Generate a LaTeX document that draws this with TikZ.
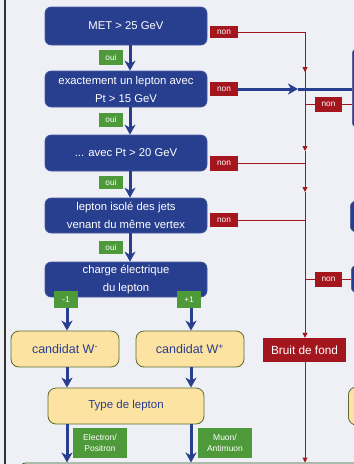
\documentclass[tikz,border=0pt]{standalone}
\usepackage{fontspec}
\setmainfont{Liberation Sans}
\usetikzlibrary{arrows.meta}
\definecolor{bg}{HTML}{EEF0F6}
\definecolor{bblue}{HTML}{283E8E}
\definecolor{rred}{HTML}{A4161E}
\definecolor{ggreen}{HTML}{4E9A3B}
\definecolor{yfill}{HTML}{FDE3A2}
\definecolor{yborder}{HTML}{5B6B30}
\begin{document}
\begin{tikzpicture}[x=1pt,y=-1pt,
  bluebox/.style={draw=bblue!85!white, line width=0.6pt, fill=bblue, rounded corners=6pt, text=white,
    font=\fontsize{11.3}{18}\selectfont, align=center, minimum width=162pt, inner sep=0pt},
  ybox/.style={draw=yborder, line width=0.8pt, fill=yfill, rounded corners=8pt, text=bblue,
    font=\fontsize{12.5}{14}\selectfont, align=center, inner sep=0pt},
  nonlab/.style={fill=rred, text=white, font=\fontsize{8.3}{9}\selectfont, minimum width=28pt, minimum height=14pt, inner sep=0pt},
  ouilab/.style={fill=ggreen, text=white, font=\fontsize{8.3}{9}\selectfont, minimum width=24pt, minimum height=14pt, inner sep=0pt},
  glab/.style={fill=ggreen, text=white, font=\fontsize{8.5}{10.5}\selectfont, align=center, minimum width=54pt, minimum height=30pt, inner sep=0pt},
  barrow/.style={draw=bblue, line width=3pt, -{Stealth[length=10pt,width=11pt,inset=3pt]}},
  bline/.style={draw=bblue, line width=3pt},
  rline/.style={draw=rred, line width=1pt},
  rarrow/.style={draw=rred, line width=1pt, -{Triangle[length=5pt,width=5pt]}}
]
\useasboundingbox (0,0) rectangle (354,464);
\clip (0,0) rectangle (354,464);
\fill[bg] (0,0) rectangle (354,464);
\draw[line width=1.2pt, black!80] (5,0) -- (5,464);

% main blue boxes
\node[bluebox, minimum height=38pt] (b1) at (126,26) {MET > 25 GeV};
\node[bluebox, minimum height=36pt] (b2) at (126,89) {exactement un lepton avec\\Pt > 15 GeV};
\node[bluebox, minimum height=36pt] (b3) at (126,153) {... avec Pt > 20 GeV};
\node[bluebox, minimum height=35pt] (b4) at (126,215.5) {lepton isolé des jets\\venant du même vertex};
\node[bluebox, minimum height=35pt] (b5) at (126,279.5) {charge électrique\\du lepton};

% partial right boxes
\node[bluebox, minimum width=60pt, minimum height=80pt, anchor=west] (rb1) at (352,88) {};
\node[bluebox, minimum width=60pt, minimum height=31pt, anchor=west] (rb2) at (350,216.5) {};
\node[bluebox, minimum width=60pt, minimum height=28pt, anchor=west] (rb3) at (351,279) {};
\node[ybox, minimum width=60pt, minimum height=38pt, anchor=west] (rb4) at (348,406) {};

% yellow boxes
\node[ybox, minimum width=108pt, minimum height=36pt] (wm) at (65,349) {candidat W\textsuperscript{-}};
\node[ybox, minimum width=108pt, minimum height=36pt] (wp) at (190,349) {candidat W\textsuperscript{+}};
\node[ybox, minimum width=156pt, minimum height=36pt, font=\fontsize{11.5}{14}\selectfont] (type) at (126,406) {Type de lepton};
\node[draw=ggreen!60!black, line width=0.8pt, fill=bg, rounded corners=8pt, minimum width=420pt, minimum height=60pt, anchor=north west, inner sep=0pt] (bot) at (18,462.5) {};

% bruit de fond
\node[fill=rred, text=white, font=\fontsize{11.8}{14}\selectfont, minimum width=83pt, minimum height=24pt, inner sep=0pt] (bruit) at (304.5,350) {Bruit de fond};

% labels
\node[nonlab, minimum height=12pt] (n1) at (224,32) {non};
\node[nonlab] (n2) at (224,89) {non};
\node[nonlab, minimum height=15pt] (n3) at (224,163) {non};
\node[nonlab] (n4) at (224,220) {non};
\node[nonlab, minimum width=27pt, minimum height=15pt] (rn1) at (328.5,104.5) {non};
\node[nonlab, minimum width=27pt, minimum height=15pt] (rn2) at (328.5,279.5) {non};

\node[ouilab, minimum height=15pt] (o1) at (111,57.5) {oui};
\node[ouilab] (o2) at (111,119.5) {oui};
\node[ouilab, minimum height=13pt] (o3) at (111,182.5) {oui};
\node[ouilab, minimum height=13pt] (o4) at (111,247.5) {oui};
\node[ouilab, minimum height=17pt] (m1) at (66,299.5) {-1};
\node[ouilab, minimum height=17pt] (p1) at (189,299.5) {+1};
\node[glab] (el) at (100,443) {Electron/\\Positron};
\node[glab] (mu) at (225,443) {Muon/\\Antimuon};

% blue vertical arrows
\draw[barrow] ([xshift=4pt]b1.south) -- ([xshift=4pt]b2.north);
\draw[barrow] ([xshift=4pt]b2.south) -- ([xshift=4pt]b3.north);
\draw[barrow] ([xshift=4pt]b3.south) -- ([xshift=4pt]b4.north);
\draw[barrow] ([xshift=4pt]b4.south) -- ([xshift=4pt]b5.north);
\draw[barrow] ([xshift=1pt]m1.south) -- ([xshift=1pt]m1.south |- wm.north);
\draw[barrow] ([xshift=2pt]p1.south) -- ([xshift=2pt]p1.south |- wp.north);
\draw[barrow] (wm.south -| 67,0) -- (type.north -| 67,0);
\draw[barrow] (wp.south -| 191,0) -- (type.north -| 191,0);
\draw[barrow] (type.south -| 67,0) -- (bot.north -| 67,0);
\draw[barrow] (type.south -| 191,0) -- (bot.north -| 191,0);

% red trunk
\coordinate (c1) at (305,32);
\coordinate (r1) at (305,72);
\coordinate (r2) at (305,151);
\coordinate (r3) at (305,192);
\draw[rline] (n1.east) -- (c1) -- (r1);
\draw[rarrow] (c1) -- (r1);
\draw[rarrow] (r1) -- (r2);
\draw[rarrow] (r2) -- (r3);
\draw[rarrow] (r3) -- (bruit.north -| c1);
\draw[rarrow] (bruit.south -| c1) -- (bot.north -| c1);
\draw[rline] (n3.east) -- (n3.east -| c1);
\draw[rline] (n4.east) -- (n4.east -| c1);
\draw[rline] (rn1.west) -- (rn1.west -| c1);
\draw[rline] (rn1.east) -- (rn1.east -| rb1.west);
\draw[rline] (rn2.west) -- (rn2.west -| c1);
\draw[rline] (rn2.east) -- (rn2.east -| rb3.west);

% blue horizontal arrow
\coordinate (mid) at (298,89);
\draw[bline] (mid) -- (mid -| rb1.west);
\draw[barrow] (n2.east) -- (mid);
\end{tikzpicture}
\end{document}
